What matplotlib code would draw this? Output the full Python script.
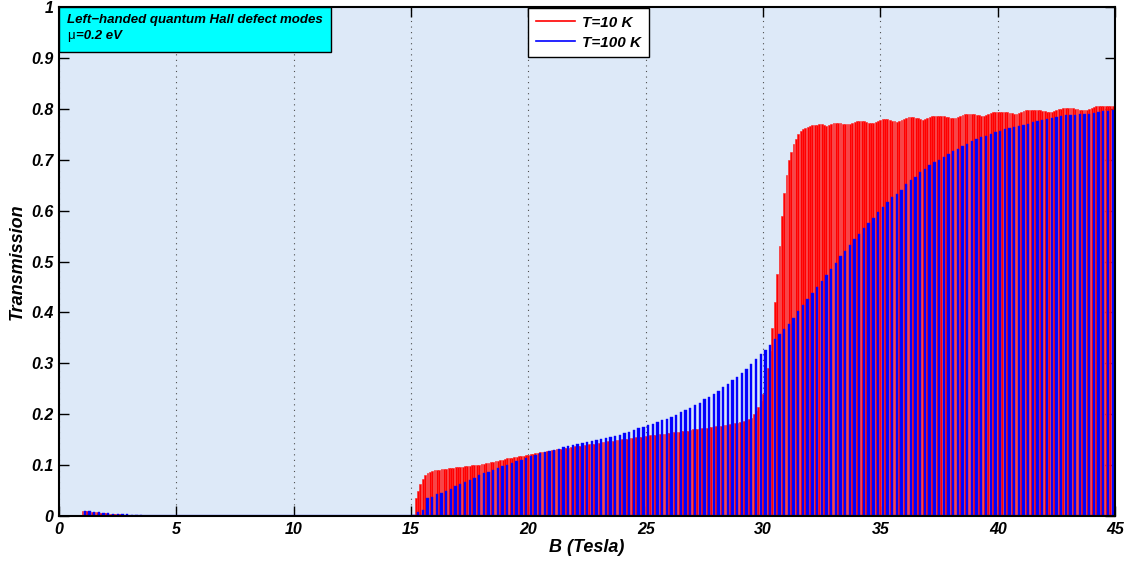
import numpy as np
import matplotlib
matplotlib.use('Agg')
import matplotlib.pyplot as plt
from matplotlib.lines import Line2D
from matplotlib.patches import Rectangle

plt.rcParams['font.family'] = ['Liberation Sans', 'DejaVu Sans']

# T = 10 K, B = 1.0 ... 45.0 Tesla in steps of 0.1
t10 = [
    0.010, 0.010, 0.009, 0.009, 0.008, 0.007, 0.007, 0.006, 0.006, 0.005,  # 1
    0.005, 0.004, 0.004, 0.004, 0.003, 0.003, 0.003, 0.003, 0.002, 0.002,  # 2
    0.002, 0.002, 0.002, 0.002, 0.002, 0.001, 0.001, 0.001, 0.001, 0.001,  # 3
    0.001, 0.001, 0.001, 0.001, 0.001, 0.001, 0.001, 0.001, 0.001, 0.001,  # 4
    0.001, 0.001, 0.001, 0.001, 0.001, 0.001, 0.001, 0.001, 0.001, 0.001,  # 5
    0.001, 0.001, 0.001, 0.001, 0.001, 0.001, 0.001, 0.001, 0.001, 0.001,  # 6
    0.001, 0.001, 0.001, 0.001, 0.001, 0.001, 0.001, 0.001, 0.001, 0.001,  # 7
    0.001, 0.001, 0.001, 0.001, 0.001, 0.001, 0.001, 0.001, 0.001, 0.001,  # 8
    0.001, 0.001, 0.001, 0.001, 0.001, 0.001, 0.001, 0.001, 0.001, 0.001,  # 9
    0.001, 0.001, 0.001, 0.001, 0.001, 0.001, 0.001, 0.001, 0.001, 0.001,  # 10
    0.001, 0.001, 0.001, 0.001, 0.001, 0.001, 0.001, 0.001, 0.001, 0.001,  # 11
    0.001, 0.001, 0.001, 0.001, 0.001, 0.001, 0.001, 0.001, 0.001, 0.001,  # 12
    0.001, 0.001, 0.001, 0.001, 0.001, 0.001, 0.001, 0.001, 0.001, 0.001,  # 13
    0.001, 0.001, 0.001, 0.001, 0.001, 0.001, 0.001, 0.001, 0.001, 0.001,  # 14
    0.001, 0.002, 0.035, 0.050, 0.062, 0.072, 0.080, 0.085, 0.087, 0.089,  # 15
    0.090, 0.091, 0.091, 0.092, 0.093, 0.093, 0.094, 0.095, 0.095, 0.096,  # 16
    0.096, 0.097, 0.097, 0.098, 0.098, 0.099, 0.100, 0.100, 0.101, 0.101,  # 17
    0.103, 0.103, 0.104, 0.105, 0.106, 0.107, 0.108, 0.109, 0.110, 0.111,  # 18
    0.112, 0.113, 0.113, 0.114, 0.115, 0.116, 0.117, 0.117, 0.118, 0.119,  # 19
    0.120, 0.121, 0.122, 0.123, 0.124, 0.125, 0.125, 0.126, 0.127, 0.128,  # 20
    0.129, 0.130, 0.131, 0.131, 0.132, 0.133, 0.134, 0.134, 0.135, 0.136,  # 21
    0.137, 0.138, 0.138, 0.139, 0.140, 0.140, 0.141, 0.142, 0.142, 0.143,  # 22
    0.144, 0.145, 0.145, 0.146, 0.147, 0.147, 0.148, 0.149, 0.149, 0.150,  # 23
    0.151, 0.152, 0.152, 0.153, 0.153, 0.154, 0.155, 0.155, 0.156, 0.157,  # 24
    0.158, 0.158, 0.159, 0.159, 0.160, 0.161, 0.161, 0.162, 0.162, 0.163,  # 25
    0.164, 0.164, 0.165, 0.165, 0.166, 0.167, 0.167, 0.168, 0.168, 0.169,  # 26
    0.170, 0.170, 0.171, 0.171, 0.172, 0.173, 0.173, 0.174, 0.174, 0.175,  # 27
    0.176, 0.176, 0.177, 0.178, 0.178, 0.179, 0.180, 0.181, 0.182, 0.183,  # 28
    0.184, 0.185, 0.186, 0.188, 0.190, 0.193, 0.200, 0.207, 0.214, 0.225,  # 29
    0.240, 0.262, 0.290, 0.325, 0.370, 0.420, 0.475, 0.530, 0.590, 0.635,  # 30
    0.670, 0.700, 0.716, 0.730, 0.740, 0.750, 0.756, 0.760, 0.762, 0.765,  # 31
    0.767, 0.768, 0.768, 0.769, 0.770, 0.770, 0.768, 0.766, 0.768, 0.771,  # 32
    0.772, 0.773, 0.773, 0.772, 0.771, 0.770, 0.770, 0.771, 0.773, 0.775,  # 33
    0.776, 0.777, 0.777, 0.776, 0.775, 0.773, 0.772, 0.773, 0.775, 0.777,  # 34
    0.778, 0.779, 0.779, 0.779, 0.778, 0.777, 0.776, 0.775, 0.776, 0.778,  # 35
    0.780, 0.782, 0.783, 0.783, 0.783, 0.782, 0.781, 0.779, 0.778, 0.779,  # 36
    0.781, 0.783, 0.785, 0.786, 0.786, 0.786, 0.785, 0.785, 0.784, 0.783,  # 37
    0.782, 0.781, 0.781, 0.783, 0.786, 0.788, 0.790, 0.790, 0.790, 0.790,  # 38
    0.789, 0.788, 0.787, 0.786, 0.786, 0.787, 0.789, 0.791, 0.793, 0.794,  # 39
    0.794, 0.794, 0.794, 0.794, 0.793, 0.792, 0.791, 0.790, 0.790, 0.791,  # 40
    0.793, 0.795, 0.797, 0.798, 0.798, 0.798, 0.798, 0.797, 0.797, 0.796,  # 41
    0.795, 0.794, 0.794, 0.794, 0.795, 0.797, 0.799, 0.800, 0.801, 0.801,  # 42
    0.801, 0.801, 0.801, 0.800, 0.799, 0.798, 0.797, 0.797, 0.798, 0.800,  # 43
    0.802, 0.804, 0.805, 0.806, 0.806, 0.806, 0.806, 0.806, 0.805, 0.805,  # 44
    0.805,
]

# T = 100 K, B = 1.1 ... 44.9 Tesla in steps of 0.2
t100 = [
    0.010, 0.009, 0.008, 0.007, 0.006, 0.005, 0.004, 0.004, 0.003, 0.003,  # 1-3
    0.002, 0.002, 0.002, 0.001, 0.001, 0.001, 0.001, 0.001, 0.001, 0.001,  # 3-5
    0.001, 0.001, 0.001, 0.001, 0.001, 0.001, 0.001, 0.001, 0.001, 0.001,  # 5-7
    0.001, 0.001, 0.001, 0.001, 0.001, 0.001, 0.001, 0.001, 0.001, 0.001,  # 7-9
    0.001, 0.001, 0.001, 0.001, 0.001, 0.001, 0.001, 0.001, 0.001, 0.001,  # 9-11
    0.001, 0.001, 0.001, 0.001, 0.001, 0.001, 0.001, 0.001, 0.001, 0.001,  # 11-13
    0.001, 0.001, 0.001, 0.001, 0.001, 0.001, 0.001, 0.001, 0.001, 0.001,  # 13-15
    0.002, 0.008, 0.012, 0.035, 0.038, 0.043, 0.046, 0.050, 0.054, 0.058,  # 15-17
    0.062, 0.067, 0.071, 0.075, 0.080, 0.084, 0.087, 0.091, 0.094, 0.098,  # 17-19
    0.101, 0.104, 0.108, 0.111, 0.114, 0.117, 0.120, 0.123, 0.126, 0.128,  # 19-21
    0.130, 0.132, 0.135, 0.137, 0.139, 0.141, 0.144, 0.146, 0.148, 0.150,  # 21-23
    0.152, 0.154, 0.156, 0.158, 0.160, 0.163, 0.166, 0.169, 0.172, 0.175,  # 23-25
    0.178, 0.181, 0.184, 0.188, 0.191, 0.195, 0.199, 0.204, 0.208, 0.213,  # 25-27
    0.218, 0.223, 0.229, 0.234, 0.240, 0.246, 0.253, 0.260, 0.267, 0.274,  # 27-29
    0.281, 0.289, 0.298, 0.308, 0.318, 0.327, 0.335, 0.347, 0.357, 0.367,  # 29-31
    0.378, 0.390, 0.402, 0.414, 0.426, 0.438, 0.450, 0.462, 0.474, 0.486,  # 31-33
    0.498, 0.510, 0.521, 0.532, 0.544, 0.555, 0.566, 0.576, 0.586, 0.597,  # 33-35
    0.608, 0.617, 0.627, 0.633, 0.641, 0.652, 0.661, 0.667, 0.675, 0.681,  # 35-37
    0.689, 0.695, 0.700, 0.706, 0.712, 0.717, 0.722, 0.727, 0.731, 0.736,  # 37-39
    0.741, 0.744, 0.747, 0.751, 0.754, 0.757, 0.760, 0.763, 0.765, 0.766,  # 39-41
    0.768, 0.771, 0.774, 0.776, 0.778, 0.779, 0.781, 0.783, 0.785, 0.787,  # 41-43
    0.788, 0.788, 0.789, 0.789, 0.790, 0.792, 0.794, 0.795, 0.796, 0.797,  # 43-45
]

b10 = np.linspace(1.0, 45.0, len(t10))
b100 = np.linspace(1.1, 44.9, len(t100))

x_ticks = [0, 5, 10, 15, 20, 25, 30, 35, 40, 45]
y_ticks = [0, 0.1, 0.2, 0.3, 0.4, 0.5, 0.6, 0.7, 0.8, 0.9, 1]
y_ticklabels = ['0', '0.1', '0.2', '0.3', '0.4', '0.5', '0.6', '0.7', '0.8', '0.9', '1']

fig = plt.figure(figsize=(11.31, 5.65), dpi=100)
ax = fig.add_axes([0.0522, 0.0867, 0.9337, 0.9009])
ax.set_facecolor('#dde9f8')

ax.bar(b10, t10, width=0.08, color='#ff0000', edgecolor='#ff2020',
       linewidth=0.4, zorder=2)
ax.bar(b100, t100, width=0.1, color='#0000ff', edgecolor='#1010ff',
       linewidth=0.3, zorder=3)
# bar baseline
ax.plot([b10[0], b10[-1]], [0, 0], color='#0000ff', lw=1.6, zorder=4,
        solid_capstyle='butt')

ax.set_xlim(0, 45)
ax.set_ylim(0, 1)
ax.set_xticks(x_ticks)
ax.set_yticks(y_ticks)
ax.set_yticklabels(y_ticklabels)
ax.tick_params(direction='in', length=7, width=1, top=True, right=True,
               labelsize=11.5, pad=4)
for lab in ax.get_xticklabels() + ax.get_yticklabels():
    lab.set_fontweight('bold')
    lab.set_fontstyle('italic')
for s in ax.spines.values():
    s.set_linewidth(1.5)
    s.set_zorder(6)

ax.xaxis.grid(True, color='0.3', linestyle=(0, (1, 4)), linewidth=0.8)
ax.set_axisbelow(True)

ax.set_xlabel('B (Tesla)', fontsize=13, fontweight='bold', fontstyle='italic', labelpad=2)
ax.set_ylabel('Transmission', fontsize=13, fontweight='bold', fontstyle='italic', labelpad=4)

# annotation box
ax.add_patch(Rectangle((0, 0.9116), 0.2576, 0.0884, transform=ax.transAxes,
                       facecolor='#00ffff', edgecolor='k', linewidth=1, zorder=7))
ax.text(0.0076, 0.987, 'Left\u2212handed quantum Hall defect modes',
        transform=ax.transAxes, va='top', ha='left', fontsize=9.5,
        fontweight='bold', fontstyle='italic', zorder=8)
ax.text(0.0076, 0.955, '\u03bc', transform=ax.transAxes, va='top', ha='left',
        fontsize=9.5, zorder=8)
ax.text(0.0158, 0.955, '=0.2 eV', transform=ax.transAxes, va='top', ha='left',
        fontsize=9.5, fontweight='bold', fontstyle='italic', zorder=8)

handles = [Line2D([], [], color='#ff0000', lw=1.2), Line2D([], [], color='#0000ff', lw=1.2)]
leg = ax.legend(handles, ['T=10 K', 'T=100 K'], loc='upper left',
                bbox_to_anchor=(0.444, 0.998), frameon=True, fancybox=False,
                prop={'weight': 'bold', 'style': 'italic', 'size': 11},
                handlelength=2.6, handletextpad=0.45, borderpad=0.5,
                labelspacing=0.4, borderaxespad=0)
leg.get_frame().set_edgecolor('k')
leg.get_frame().set_linewidth(1)
leg.get_frame().set_facecolor('white')
leg.get_frame().set_alpha(1)
leg.set_zorder(9)

fig.savefig('out.png', dpi=100, facecolor='white')
